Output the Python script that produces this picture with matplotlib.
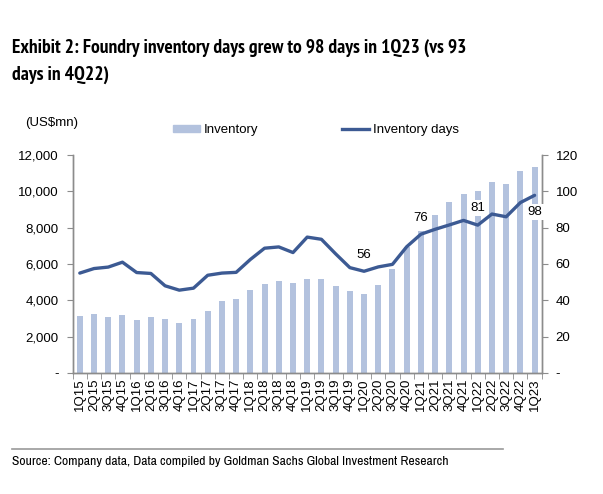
import matplotlib
matplotlib.use("Agg")
import matplotlib.pyplot as plt
from matplotlib.lines import Line2D
from matplotlib.patches import Patch
import numpy as np
import logging
logging.getLogger('matplotlib.font_manager').setLevel(logging.ERROR)

plt.rcParams['font.family'] = ['Liberation Sans', 'DejaVu Sans']
NARROW = ['Arial Narrow', 'Liberation Sans Narrow', 'Archivo Narrow', 'Roboto Condensed',
          'PT Sans Narrow', 'Pragati Narrow', 'Liberation Sans', 'DejaVu Sans']
NARROW_BOLD = ['Arial Narrow', 'Liberation Sans Narrow', 'PT Sans Narrow', 'Barlow Condensed',
               'Archivo Narrow', 'Roboto Condensed', 'Liberation Sans', 'DejaVu Sans']

quarters = ['1Q15', '2Q15', '3Q15', '4Q15', '1Q16', '2Q16', '3Q16', '4Q16',
            '1Q17', '2Q17', '3Q17', '4Q17', '1Q18', '2Q18', '3Q18', '4Q18',
            '1Q19', '2Q19', '3Q19', '4Q19', '1Q20', '2Q20', '3Q20', '4Q20',
            '1Q21', '2Q21', '3Q21', '4Q21', '1Q22', '2Q22', '3Q22', '4Q22', '1Q23']
inventory = [3130, 3250, 3080, 3200, 2890, 3080, 2980, 2740,
             2970, 3390, 3950, 4080, 4580, 4900, 5080, 4950,
             5160, 5150, 4800, 4530, 4360, 4830, 5720, 6950,
             7840, 8670, 9400, 9850, 10020, 10520, 10400, 11120, 11320]
inv_days = [55.0, 57.5, 58.3, 61.0, 55.3, 54.8, 48.0, 45.6,
            46.7, 53.8, 55.0, 55.4, 62.5, 68.7, 69.4, 66.3,
            74.8, 73.6, 65.6, 58.0, 56.0, 58.4, 59.8, 69.5,
            76.4, 79.1, 81.5, 84.0, 81.4, 87.5, 86.0, 93.8, 97.8]
annot_idx = [20, 24, 28, 32]
annot_text = ['56', '76', '81', '98']
left_ticks = [0, 2000, 4000, 6000, 8000, 10000, 12000]
left_ticklabels = ['-', '2,000', '4,000', '6,000', '8,000', '10,000', '12,000']
right_ticks = [0, 20, 40, 60, 80, 100, 120]
right_ticklabels = ['-', '20', '40', '60', '80', '100', '120']
title_lines = ['Exhibit 2: Foundry inventory days grew to 98 days in 1Q23 (vs 93',
               'days in 4Q22)']

bar_color = '#b3c2de'
line_color = '#3c5a93'
spine_color = '#8c8c8c'

fig = plt.figure(figsize=(6.03, 4.94), dpi=100)
ax = fig.add_axes([72.7 / 603, 1 - 373 / 494, (541.7 - 72.7) / 603, (373 - 155) / 494])
ax2 = ax.twinx()

x = np.arange(len(quarters))
ax.bar(x, inventory, width=0.42, color=bar_color, zorder=2)
ax.set_xlim(-0.5, len(quarters) - 0.5)
ax.set_ylim(0, 12000)
ax.set_yticks(left_ticks)
ax.set_yticklabels(left_ticklabels, fontsize=9.5)
ax.set_xticks(x)
ax.set_xticklabels(quarters, rotation=90, fontsize=9.5)
ax.set_xticks(np.arange(-0.5, len(quarters), 1), minor=True)
ax.tick_params(axis='x', which='major', length=0, pad=4)
ax.tick_params(axis='x', which='minor', length=4, color=spine_color, direction='out')
ax.tick_params(axis='y', length=4, color=spine_color, direction='out', pad=6)

ax2.plot(x, inv_days, color=line_color, linewidth=2.4, zorder=3, solid_capstyle='round')
ax2.set_ylim(0, 120)
ax2.set_yticks(right_ticks)
ax2.set_yticklabels(right_ticklabels, fontsize=9.5)
ax2.tick_params(axis='y', length=4, color=spine_color, direction='out', pad=6)

for a in (ax, ax2):
    a.spines['top'].set_visible(False)
    for s in ('left', 'right', 'bottom'):
        a.spines[s].set_color(spine_color)
        a.spines[s].set_linewidth(1.0)

ax.set_zorder(1)
ax2.set_zorder(2)
ax2.patch.set_visible(False)

for i, t in zip(annot_idx, annot_text):
    off = -12 if t == '98' else 12
    ax2.annotate(t, (x[i], inv_days[i]), xytext=(0, off), textcoords='offset points',
                 ha='center', va='center', fontsize=9.5, zorder=5, annotation_clip=False,
                 bbox=dict(boxstyle='square,pad=0.15', fc='white', ec='none'))

fig.text(25 / 603, 1 - 123 / 494, '(US$mn)', fontsize=9.5, ha='left', va='center')

handles = [Patch(color=bar_color, label='Inventory'),
           Line2D([0], [0], color=line_color, linewidth=2.4, label='Inventory days')]
fig.legend(handles=handles, loc='center', bbox_to_anchor=(316 / 603, 1 - 130 / 494), ncol=2,
           frameon=False, fontsize=9.5, handlelength=2.0, handleheight=0.5,
           columnspacing=6.4, handletextpad=0.3)

fig.text(12 / 603, 1 - 53 / 494, title_lines[0], fontsize=14, fontweight='bold',
         ha='left', va='baseline', family=NARROW_BOLD)
fig.text(12 / 603, 1 - 80 / 494, title_lines[1], fontsize=14, fontweight='bold',
         ha='left', va='baseline', family=NARROW_BOLD)

fig.add_artist(Line2D([12 / 603, 503 / 603], [1 - 449 / 494, 1 - 449 / 494],
                      color='#999999', linewidth=1.2))
fig.text(12 / 603, 1 - 461 / 494,
         'Source: Company data, Data compiled by Goldman Sachs Global Investment Research',
         fontsize=9.8, ha='left', va='center', family=NARROW)

fig.savefig('out.png', dpi=100)
